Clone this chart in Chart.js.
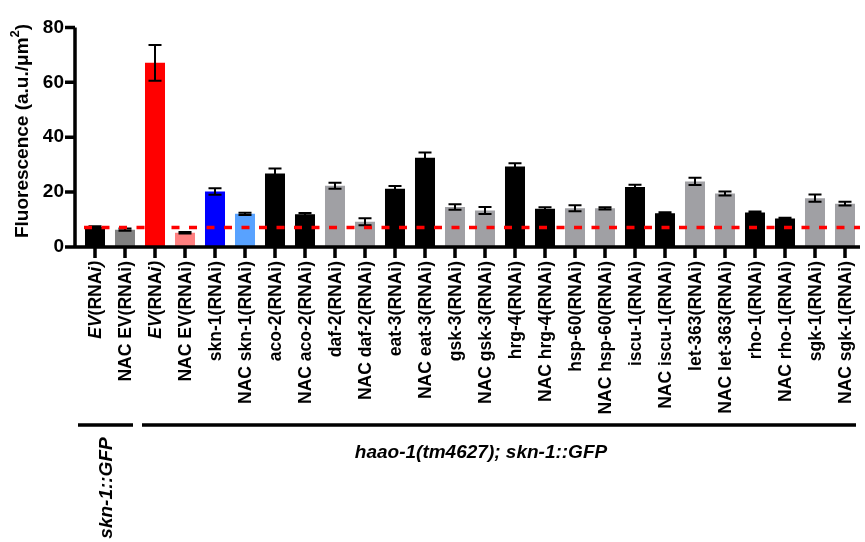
<!DOCTYPE html>
<html>
<head>
<meta charset="utf-8">
<script src="https://cdn.jsdelivr.net/npm/chart.js@4.4.1/dist/chart.umd.min.js"></script>
<style>
    html, body { margin: 0; padding: 0; background: #fff; }
    #wrap { width: 865px; height: 542px; }
</style>
</head>
<body>
<div id="wrap"><canvas id="chart" width="865" height="542"></canvas></div>
<script>
// Data
const categories = [
    'EV(RNAi)', 'NAC EV(RNAi)', 'EV(RNAi)', 'NAC EV(RNAi)',
    'skn-1(RNAi)', 'NAC skn-1(RNAi)', 'aco-2(RNAi)', 'NAC aco-2(RNAi)',
    'daf-2(RNAi)', 'NAC daf-2(RNAi)', 'eat-3(RNAi)', 'NAC eat-3(RNAi)',
    'gsk-3(RNAi)', 'NAC gsk-3(RNAi)', 'hrg-4(RNAi)', 'NAC hrg-4(RNAi)',
    'hsp-60(RNAi)', 'NAC hsp-60(RNAi)', 'iscu-1(RNAi)', 'NAC iscu-1(RNAi)',
    'let-363(RNAi)', 'NAC let-363(RNAi)', 'rho-1(RNAi)', 'NAC rho-1(RNAi)',
    'sgk-1(RNAi)', 'NAC sgk-1(RNAi)'
];
const values = [7.3, 6.3, 67.1, 5.2, 20.2, 12.1, 26.8, 11.9, 22.3, 9.2, 21.2, 32.5, 14.6,
                13.3, 29.3, 13.9, 14.1, 14.1, 21.9, 12.3, 23.9, 19.5, 12.6, 10.4, 17.8, 15.8];
const errors = [0.3, 0.4, 6.5, 0.3, 1.2, 0.4, 1.8, 0.5, 1.1, 1.3, 1.0, 1.9, 1.0,
                1.3, 1.2, 0.6, 1.1, 0.4, 0.8, 0.4, 1.3, 0.7, 0.3, 0.3, 1.3, 0.7];
const barColors = [
    '#000000', '#808080', '#ff0000', '#ff8080', '#0000ff', '#58a2ff',
    '#000000', '#000000', '#a0a0a4', '#a0a0a4', '#000000', '#000000',
    '#a0a0a4', '#a0a0a4', '#000000', '#000000', '#a0a0a4', '#a0a0a4',
    '#000000', '#000000', '#a0a0a4', '#a0a0a4', '#000000', '#000000',
    '#a0a0a4', '#a0a0a4'
];
const yTicks = [0, 20, 40, 60, 80];
const controlLevel = 7.4;
const italicLabels = [0, 2];
const yTitle = 'Fluorescence (a.u./\u03bcm';
const strainLeft = 'skn-1::GFP';
const strainRight = 'haao-1(tm4627); skn-1::GFP';

const FAMILY = '"Liberation Sans", Arial, sans-serif';

// label split into [text, italic] pieces
function labelParts(i) {
    const t = categories[i];
    if (italicLabels.includes(i)) {
        return [['EV', true], ['(RNA', false], ['i)', true]];
    }
    return [[t, false]];
}

const overlay = {
    id: 'overlay',
    afterDatasetsDraw(chart) {
        const ctx = chart.ctx;
        const y = chart.scales.y;
        const meta = chart.getDatasetMeta(0);
        ctx.save();
        // error bars
        ctx.strokeStyle = '#000';
        ctx.lineWidth = 2;
        meta.data.forEach((bar, i) => {
            const hi = y.getPixelForValue(values[i] + errors[i]);
            const lo = y.getPixelForValue(values[i] - errors[i]);
            ctx.beginPath();
            ctx.moveTo(bar.x, hi); ctx.lineTo(bar.x, lo);
            ctx.moveTo(bar.x - 6.5, hi); ctx.lineTo(bar.x + 6.5, hi);
            ctx.moveTo(bar.x - 6.5, lo); ctx.lineTo(bar.x + 6.5, lo);
            ctx.stroke();
        });
        // dashed control level
        const cy = Math.round(y.getPixelForValue(controlLevel)) + 0.5;
        ctx.strokeStyle = '#ff0000';
        ctx.lineWidth = 3.5;
        ctx.setLineDash([8, 9.5]);
        ctx.beginPath();
        ctx.moveTo(chart.chartArea.left + 4, cy);
        ctx.lineTo(chart.chartArea.right, cy);
        ctx.stroke();
        ctx.restore();
    },
    afterDraw(chart) {
        const ctx = chart.ctx;
        const x = chart.scales.x;
        const y = chart.scales.y;
        const area = chart.chartArea;
        const axisX = area.left - 5;
        ctx.save();
        ctx.strokeStyle = '#000';
        ctx.lineWidth = 3.5;
        ctx.lineCap = 'butt';

        // axes
        ctx.beginPath();
        ctx.moveTo(axisX, y.getPixelForValue(80));
        ctx.lineTo(axisX, area.bottom + 1.75);
        ctx.moveTo(axisX - 1.75, area.bottom);
        ctx.lineTo(area.right, area.bottom);
        yTicks.forEach(v => {
            const py = y.getPixelForValue(v);
            ctx.moveTo(axisX - 10, py); ctx.lineTo(axisX, py);
        });
        categories.forEach((c, i) => {
            const px = x.getPixelForValue(i);
            ctx.moveTo(px, area.bottom); ctx.lineTo(px, area.bottom + 11);
        });
        ctx.stroke();

        // category labels (rotated, mixed italic)
        ctx.fillStyle = '#000';
        ctx.textBaseline = 'middle';
        ctx.textAlign = 'left';
        categories.forEach((c, i) => {
            const parts = labelParts(i);
            let total = 0;
            parts.forEach(([t, it]) => {
                ctx.font = `${it ? 'italic ' : ''}bold 17.5px ${FAMILY}`;
                total += ctx.measureText(t).width;
            });
            ctx.save();
            ctx.translate(x.getPixelForValue(i) + 1, area.bottom + 14);
            ctx.rotate(-Math.PI / 2);
            let pos = -total;
            parts.forEach(([t, it]) => {
                ctx.font = `${it ? 'italic ' : ''}bold 17.5px ${FAMILY}`;
                ctx.fillText(t, pos, 0);
                pos += ctx.measureText(t).width;
            });
            ctx.restore();
        });

        // y title with superscript
        ctx.save();
        ctx.translate(23, 131);
        ctx.rotate(-Math.PI / 2);
        ctx.font = `bold 19px ${FAMILY}`;
        const w1 = ctx.measureText(yTitle).width;
        ctx.font = `bold 13px ${FAMILY}`;
        const w2 = ctx.measureText('2').width;
        ctx.font = `bold 19px ${FAMILY}`;
        const w3 = ctx.measureText(')').width;
        let sx = -(w1 + w2 + w3) / 2;
        ctx.textBaseline = 'middle';
        ctx.fillText(yTitle, sx, 0);
        sx += w1;
        ctx.font = `bold 13px ${FAMILY}`;
        ctx.fillText('2', sx, -8);
        sx += w2;
        ctx.font = `bold 19px ${FAMILY}`;
        ctx.fillText(')', sx, 0);
        ctx.restore();

        // strain brackets
        ctx.beginPath();
        ctx.moveTo(78, 425); ctx.lineTo(133, 425);
        ctx.moveTo(142, 425); ctx.lineTo(856, 425);
        ctx.stroke();

        ctx.font = `italic bold 19px ${FAMILY}`;
        ctx.textAlign = 'center';
        ctx.textBaseline = 'middle';
        ctx.fillText(strainRight, 481, 453);
        ctx.save();
        ctx.translate(107, 488);
        ctx.rotate(-Math.PI / 2);
        ctx.fillText(strainLeft, 0, 0);
        ctx.restore();

        ctx.restore();
    }
};

new Chart(document.getElementById('chart'), {
    type: 'bar',
    data: {
        labels: categories,
        datasets: [{
            data: values,
            backgroundColor: barColors,
            borderWidth: 0,
            barPercentage: 0.667,
            categoryPercentage: 1.0
        }]
    },
    options: {
        responsive: false,
        animation: false,
        devicePixelRatio: 1,
        layout: { padding: { top: 13, right: 5, left: 0, bottom: 0 } },
        plugins: { legend: { display: false }, tooltip: { enabled: false } },
        scales: {
            x: {
                grid: { display: false, drawTicks: false },
                border: { display: false },
                ticks: { display: false },
                afterFit: (s) => { s.height = 542 - 247; }
            },
            y: {
                min: 0,
                max: 80,
                grid: { display: false, drawTicks: false },
                border: { display: false },
                ticks: {
                    stepSize: 20,
                    padding: 16,
                    color: '#000',
                    font: { family: FAMILY, size: 19, weight: 'bold' }
                },
                afterFit: (s) => { s.width = 80; }
            }
        }
    },
    plugins: [overlay]
});
</script>
</body>
</html>
